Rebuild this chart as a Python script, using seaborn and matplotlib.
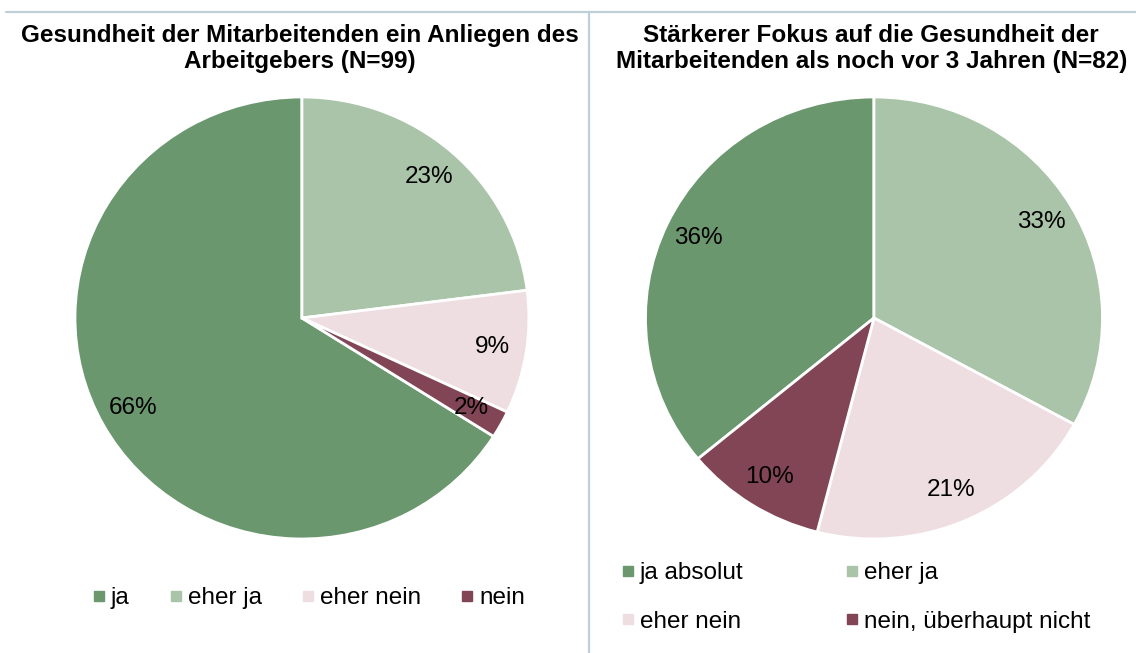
import numpy as np
import matplotlib
matplotlib.use("Agg")
import matplotlib.pyplot as plt
import seaborn as sns
from matplotlib.lines import Line2D

sns.set_theme(style="white")
plt.rcParams['font.family'] = ['Liberation Sans', 'DejaVu Sans']
plt.rcParams['text.color'] = 'black'

# data
left_title = "Gesundheit der Mitarbeitenden ein Anliegen des\nArbeitgebers (N=99)"
left_labels = ["ja", "eher ja", "eher nein", "nein"]
left_values = [66, 23, 9, 2]

right_title = "Stärkerer Fokus auf die Gesundheit der\nMitarbeitenden als noch vor 3 Jahren (N=82)"
right_labels = ["ja absolut", "eher ja", "eher nein", "nein, überhaupt nicht"]
right_values = [36, 33, 21, 10]

colors = ["#6B976E", "#A9C4A8", "#EEDEE2", "#824556"]
fs = 17.5

fig = plt.figure(figsize=(11.36, 6.53), dpi=100)


def draw_pie(ax, values):
    vals = np.array(values, dtype=float)
    first = vals[0] / vals.sum() * 360
    ax.pie(vals, colors=colors, startangle=90 + first, counterclock=False,
           autopct='%.0f%%', pctdistance=0.85,
           wedgeprops=dict(edgecolor='white', linewidth=2),
           textprops=dict(fontsize=fs, color='black'))
    ax.set_aspect('auto')
    ax.set_xlim(-1, 1)
    ax.set_ylim(-1, 1)
    ax.axis('off')


axl = fig.add_axes([0.0660, 0.1746, 0.3996, 0.6769])
draw_pie(axl, left_values)
axr = fig.add_axes([0.5682, 0.1746, 0.4023, 0.6769])
draw_pie(axr, right_values)

fig.text(0.264, 0.926, left_title, ha='center', va='center', fontsize=fs,
         fontweight='bold', linespacing=1.2, color='black')
fig.text(0.767, 0.926, right_title, ha='center', va='center', fontsize=fs,
         fontweight='bold', linespacing=1.2, color='black')


def handles(labels, order):
    return [Line2D([], [], marker='s', linestyle='none', markersize=6.5,
                   markerfacecolor=colors[i], markeredgecolor=colors[i], label=labels[i])
            for i in order]


fig.legend(handles=handles(left_labels, [0, 1, 2, 3]), loc='center',
           bbox_to_anchor=(0.272, 0.084), labelcolor='black',
           ncol=4, frameon=False, fontsize=fs, handlelength=0.5, handletextpad=0.25,
           columnspacing=1.65)
# rows: ja absolut / eher ja, then eher nein / nein
fig.legend(handles=handles(right_labels, [0, 2, 1, 3]), loc='center',
           bbox_to_anchor=(0.7535, 0.085), labelcolor='black',
           ncol=2, frameon=False, fontsize=fs, handlelength=0.5, handletextpad=0.25,
           columnspacing=4.2, labelspacing=1.1)

line_col = "#BFCFD8"
fig.add_artist(Line2D([6 / 1136, 1], [1 - 12 / 653, 1 - 12 / 653], transform=fig.transFigure,
                      color=line_col, linewidth=1.6))
fig.add_artist(Line2D([589 / 1136, 589 / 1136], [0, 1 - 12 / 653], transform=fig.transFigure,
                      color=line_col, linewidth=1.6))

fig.savefig("out.png", dpi=100, facecolor='white')
